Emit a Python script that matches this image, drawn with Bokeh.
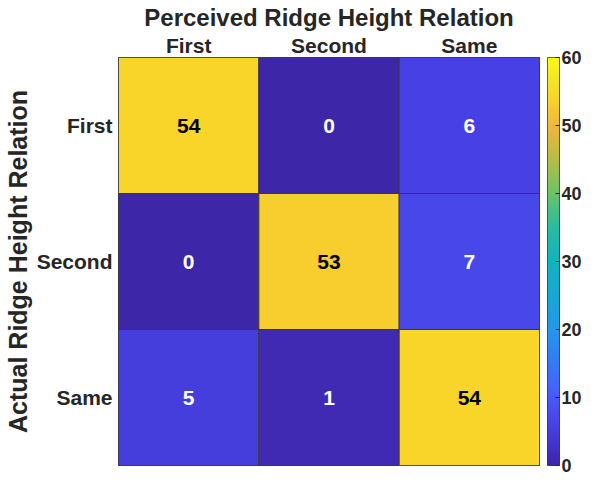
import numpy as np
from bokeh.plotting import figure
from bokeh.layouts import row
from bokeh.models import ColumnDataSource, LinearColorMapper, FixedTicker
from bokeh.transform import transform
from bokeh.core.properties import value
from bokeh.embed import file_html
from bokeh.resources import INLINE

# ---- data ----
perceived = ["First", "Second", "Same"]          # columns (x)
actual = ["First", "Second", "Same"]             # rows (y)
counts_first = [54, 0, 6]                        # actual = First
counts_second = [0, 53, 7]                       # actual = Second
counts_same = [5, 1, 54]                         # actual = Same
colorbar_ticks = [0, 10, 20, 30, 40, 50, 60]
cbar_low, cbar_high = 0, 60
x_title = "Perceived Ridge Height Relation"
y_title = "Actual Ridge Height Relation"

rows = [counts_first, counts_second, counts_same]
xs, ys, vals, labels, tcol = [], [], [], [], []
for a, r in zip(actual, rows):
    for c, v in zip(perceived, r):
        xs.append(c)
        ys.append(a)
        vals.append(v)
        labels.append(str(v))
        tcol.append("#000000" if v > 30 else "#ffffff")
src = ColumnDataSource(dict(x=xs, y=ys, v=vals, t=labels, tc=tcol))

# ---- parula-like palette (style) ----
anc_t = [0.0, 0.05, 0.1, 0.15, 0.2, 0.25, 0.333, 0.4, 0.5, 0.583, 0.667, 0.75, 0.833, 0.9, 0.95, 1.0]
anc_c = [(62, 38, 168), (68, 51, 205), (71, 66, 230), (72, 84, 246), (68, 103, 253),
         (52, 122, 245), (39, 150, 235), (25, 165, 215), (20, 178, 192), (40, 188, 160),
         (105, 195, 105), (180, 190, 70), (240, 182, 60), (249, 212, 42), (245, 230, 35),
         (249, 251, 20)]
tt = np.linspace(0, 1, 256)
arr = np.array(anc_c, dtype=float)
chans = [np.interp(tt, anc_t, arr[:, k]) for k in range(3)]
palette = ["#%02x%02x%02x" % (int(round(r)), int(round(g)), int(round(b)))
           for r, g, b in zip(*chans)]

mapper = LinearColorMapper(palette=palette, low=cbar_low, high=cbar_high)

FONT = "Liberation Sans"
TXT = "#262626"
EDGE = "#3a3a3a"

WTOT, H = 584, 476
TOP, BOTTOM = 48, 11
WM = 540

p = figure(width=WM, height=H, x_range=perceived, y_range=list(reversed(actual)),
           x_axis_location="above", output_backend="svg", toolbar_location=None,
           min_border_left=110, min_border_top=TOP, min_border_bottom=BOTTOM,
           min_border_right=1)

p.rect(x="x", y="y", width=1, height=1, source=src,
       fill_color=transform("v", mapper), line_color=EDGE, line_width=1)
p.text(x="x", y="y", text="t", source=src, text_color="tc",
       text_align="center", text_baseline="middle",
       text_font=value(FONT), text_font_style="bold", text_font_size="21px")

p.grid.visible = False
p.outline_line_color = EDGE
p.background_fill_color = "white"

for ax in (p.xaxis[0], p.yaxis[0]):
    ax.major_tick_in = 0
    ax.major_tick_out = 0
    ax.minor_tick_in = 0
    ax.minor_tick_out = 0
    ax.axis_line_color = None
    ax.major_label_text_font = FONT
    ax.major_label_text_font_style = "bold"
    ax.major_label_text_font_size = "21px"
    ax.major_label_text_color = TXT
    ax.axis_label_text_font = FONT
    ax.axis_label_text_font_style = "bold"
    ax.axis_label_text_color = TXT

p.xaxis[0].axis_label = x_title
p.xaxis[0].axis_label_text_font_size = "24px"
p.xaxis[0].major_label_standoff = 1
p.xaxis[0].axis_label_standoff = 0
p.yaxis[0].axis_label = y_title
p.yaxis[0].axis_label_text_font_size = "25px"
p.yaxis[0].major_label_standoff = 6
p.yaxis[0].axis_label_standoff = 2
p.yaxis[0].major_label_orientation = "horizontal"

# ---- colour bar as its own narrow figure ----
cbf = figure(width=WTOT - WM, height=H, x_range=(0, 1), y_range=(cbar_low, cbar_high),
             y_axis_location="right", output_backend="svg", toolbar_location=None,
             min_border_left=7, min_border_right=23, min_border_top=TOP,
             min_border_bottom=BOTTOM)
grad = np.linspace(cbar_low, cbar_high, 256).reshape(256, 1)
cbf.image(image=[grad], x=0, y=cbar_low, dw=1, dh=cbar_high - cbar_low, color_mapper=mapper)
cbf.grid.visible = False
cbf.xaxis.visible = False
cbf.outline_line_color = EDGE
ya = cbf.yaxis[0]
ya.ticker = FixedTicker(ticks=colorbar_ticks)
ya.major_tick_in = 4
ya.major_tick_out = 0
ya.minor_tick_in = 0
ya.minor_tick_out = 0
ya.major_tick_line_color = TXT
ya.axis_line_color = None
ya.major_label_standoff = 2
ya.major_label_text_font = FONT
ya.major_label_text_font_style = "bold"
ya.major_label_text_font_size = "18px"
ya.major_label_text_color = TXT

layout = row(p, cbf)
open("out.html", "w").write(file_html(layout, INLINE))
